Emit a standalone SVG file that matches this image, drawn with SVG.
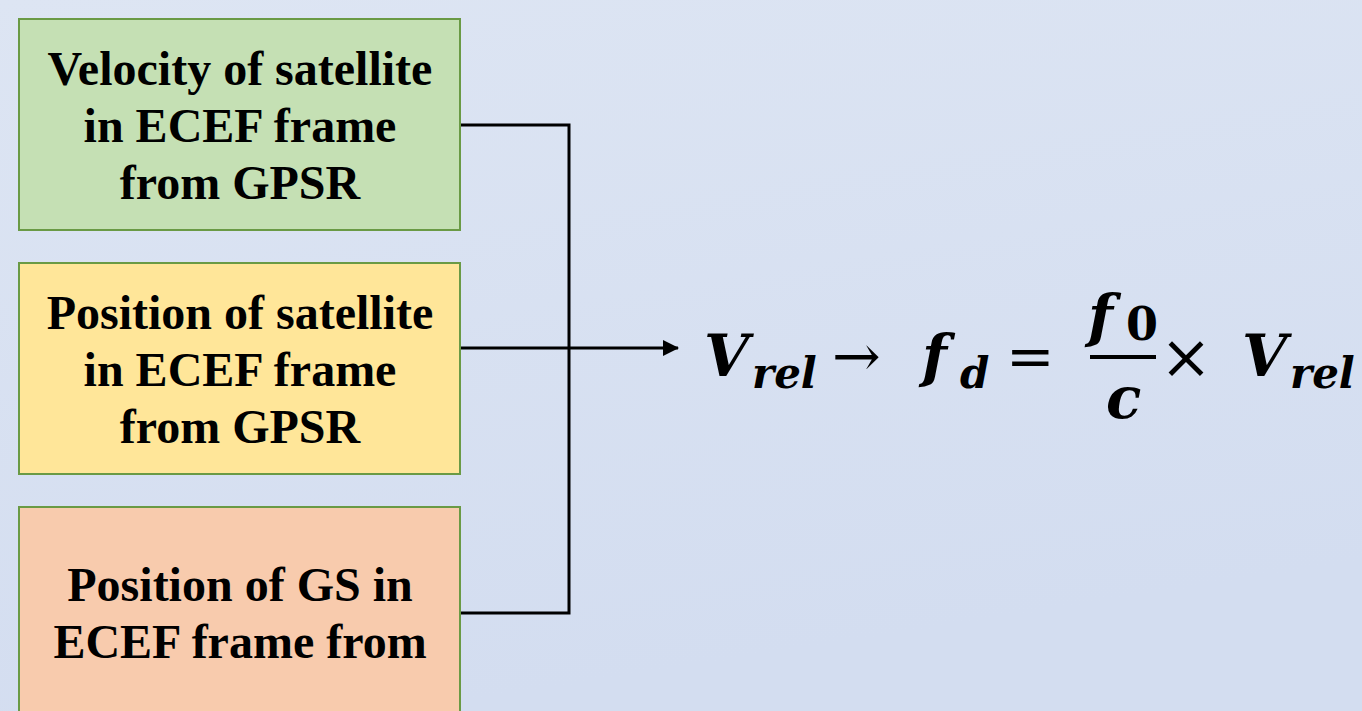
<svg xmlns="http://www.w3.org/2000/svg" width="1362" height="711" viewBox="0 0 1362 711">
  <defs>
    <linearGradient id="bg" x1="0" y1="0" x2="0.3" y2="1">
      <stop offset="0" stop-color="#dde5f3"/>
      <stop offset="1" stop-color="#d3ddf0"/>
    </linearGradient>
    <marker id="arrow" markerWidth="16" markerHeight="16" refX="15" refY="8" orient="auto" markerUnits="userSpaceOnUse" viewBox="0 0 16 16">
      <path d="M0,0 L16,8 L0,16 z" fill="#000"/>
    </marker>
    <style>
      .box { stroke: #6a9a45; stroke-width: 2; }
      .lbl { font-weight: bold; font-size: 48px; fill: #000; text-anchor: middle; }
      .wire { fill: none; stroke: #000; stroke-width: 3; }
      .mi { font-style: italic; font-weight: bold; fill: #000; }
      .mo { fill: #000; }
    </style>
  </defs>

  <rect x="0" y="0" width="1362" height="711" fill="url(#bg)"/>

  <!-- connectors -->
  <g id="connectors">
    <polyline class="wire" points="460,125 569,125 569,613 460,613"/>
    <line class="wire" x1="460" y1="348" x2="678" y2="348" marker-end="url(#arrow)"/>
  </g>

  <!-- input boxes -->
  <g id="velocity-sat" font-family="'Liberation Serif', Tinos, 'Times New Roman', serif">
    <rect class="box" x="19" y="19" width="441" height="211" fill="#c5e0b4"/>
    <text class="lbl" x="240" y="85">Velocity of satellite</text>
    <text class="lbl" x="240" y="142">in ECEF frame</text>
    <text class="lbl" x="240" y="199">from GPSR</text>
  </g>

  <g id="position-sat" font-family="'Liberation Serif', Tinos, 'Times New Roman', serif">
    <rect class="box" x="19" y="263" width="441" height="211" fill="#ffe699"/>
    <text class="lbl" x="240" y="329">Position of satellite</text>
    <text class="lbl" x="240" y="386">in ECEF frame</text>
    <text class="lbl" x="240" y="443">from GPSR</text>
  </g>

  <g id="position-gs" font-family="'Liberation Serif', Tinos, 'Times New Roman', serif">
    <rect class="box" x="19" y="507" width="441" height="211" fill="#f8cbad"/>
    <text class="lbl" x="240" y="601">Position of GS in</text>
    <text class="lbl" x="240" y="658">ECEF frame from</text>
  </g>

  <!-- Doppler shift relation -->
  <g id="formula" font-family="'DejaVu Serif', serif">
    <text class="mi" x="704" y="376" font-size="58">V</text>
    <text class="mi" x="752" y="388" font-size="42">rel</text>
    <text class="mo" x="832" y="376" font-size="58">→</text>
    <text class="mi" x="922" y="376" font-size="58">f</text>
    <text class="mi" x="960" y="388" font-size="42">d</text>
    <text class="mo" x="1006" y="376" font-size="58">=</text>
    <text class="mi" x="1088" y="336" font-size="58">f</text>
    <text class="mo" x="1126" y="340" font-size="46" font-weight="bold">0</text>
    <rect x="1090" y="355" width="66" height="4" fill="#000"/>
    <text class="mi" x="1106" y="418" font-size="58">c</text>
    <text class="mo" x="1160" y="378" font-size="62">×</text>
    <text class="mi" x="1242" y="376" font-size="58">V</text>
    <text class="mi" x="1290" y="388" font-size="42">rel</text>
  </g>
</svg>
